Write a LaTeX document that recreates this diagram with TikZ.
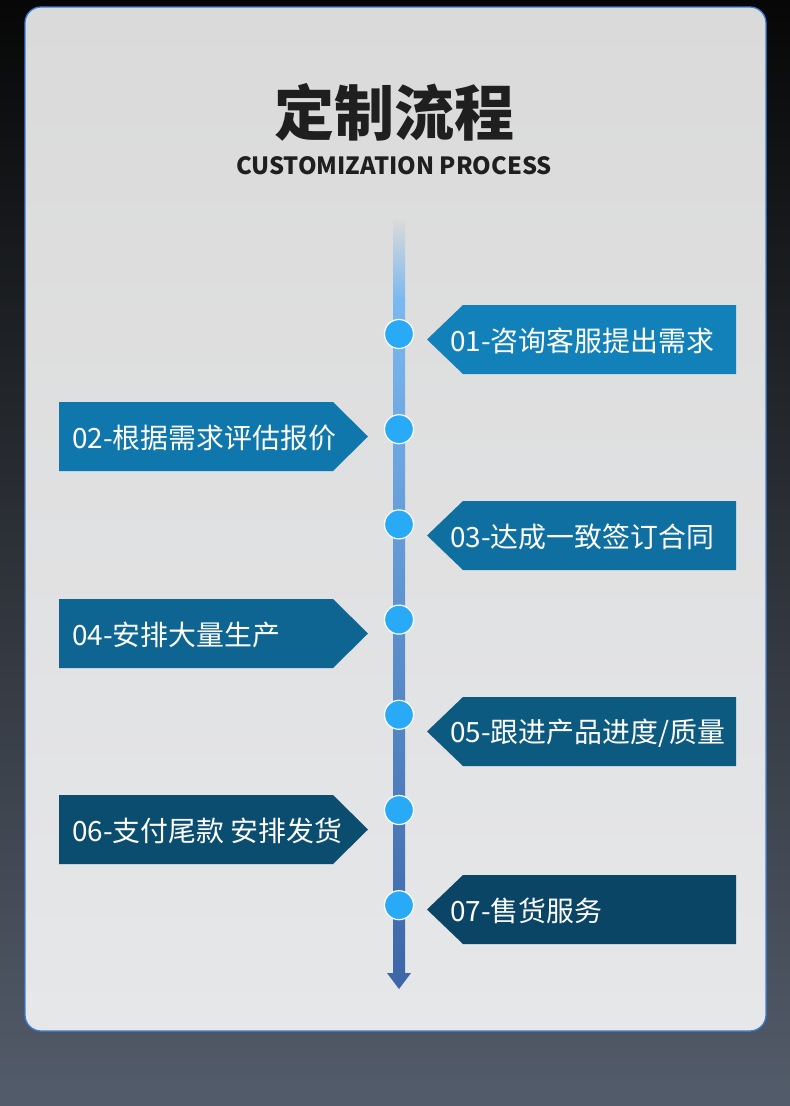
\documentclass[tikz,border=0pt]{standalone}
\usepackage{fontspec}
\setmainfont{Noto Sans CJK SC}
\definecolor{bgtop}{HTML}{070707}
\definecolor{bgbot}{HTML}{535C6A}
\definecolor{cardtop}{HTML}{DADADA}
\definecolor{cardbot}{HTML}{E6E7E9}
\definecolor{cardline}{HTML}{3C7BD4}
\definecolor{spineA}{HTML}{7AB8F0}
\definecolor{spineB}{HTML}{3D67A9}
\definecolor{dotblue}{HTML}{28AAF6}
\definecolor{box1}{HTML}{1281BA}
\definecolor{box2}{HTML}{1077AD}
\definecolor{box3}{HTML}{106FA1}
\definecolor{box4}{HTML}{0F6592}
\definecolor{box5}{HTML}{0D5A81}
\definecolor{box6}{HTML}{0B4D6F}
\definecolor{box7}{HTML}{0A4566}
\tikzset{
  dot/.style={circle,fill=dotblue,draw=white,line width=1.2pt,minimum size=29pt,inner sep=0pt},
  label/.style={anchor=west,text=white,inner sep=0pt,font=\fontsize{27.9}{28}\selectfont}
}

\begin{document}
\begin{tikzpicture}[x=1pt,y=-1pt]
            \useasboundingbox (0,0) rectangle (790,1106);
            \shade[top color=bgtop,bottom color=bgbot] (0,0) rectangle (790,1106);
            \shade[top color=cardtop,bottom color=cardbot,draw=cardline,line width=1.3pt,rounded corners=16pt] (25,7) rectangle (766,1031);
            % heading
            \node[font=\bfseries\fontsize{60}{60}\selectfont,text=black!88] (title) at (394,112) {定制流程};
            \node[font=\bfseries\fontsize{23.7}{24}\selectfont,text=black!88] (subtitle) at (394,166) {CUSTOMIZATION PROCESS};
            % spine
            \coordinate (spinetop) at (399,220);
            \coordinate (spinemid) at (399,300);
            \coordinate (spinebot) at (399,973);
            \coordinate (spinetip) at (399,989);
            \shade[top color=cardtop,bottom color=spineA] ([xshift=-6]spinetop) rectangle ([xshift=6]spinemid);
            \shade[top color=spineA,bottom color=spineB] ([xshift=-6]spinemid) rectangle ([xshift=6]spinebot);
            \fill[spineB] ([xshift=-12]spinebot) -- ([xshift=12]spinebot) -- (spinetip) -- cycle;
            % steps on the right
            \foreach \i/\y/\txt in {1/305/咨询客服提出需求,3/501/达成一致签订合同,5/697/{跟进产品进度/质量},7/875/售货服务} {
                \fill[box\i] (463,\y) -- (736,\y) -- (736,\y+69) -- (463,\y+69) -- (427,\y+34.5) -- cycle;
                \node[label] (t\i) at (450,\y+36) {0\i-\txt};
            }
            % steps on the left
            \foreach \i/\y/\txt in {2/402/根据需求评估报价,4/599/安排大量生产,6/795/支付尾款 安排发货} {
                \fill[box\i] (59,\y) -- (333,\y) -- (368,\y+34.5) -- (333,\y+69) -- (59,\y+69) -- cycle;
                \node[label] (t\i) at (72,\y+36) {0\i-\txt};
            }
            \foreach \k in {1,...,7} {
                \node[dot] (c\k) at (399,{334+95.2*(\k-1)}) {};
            }
        \end{tikzpicture}
\end{document}
